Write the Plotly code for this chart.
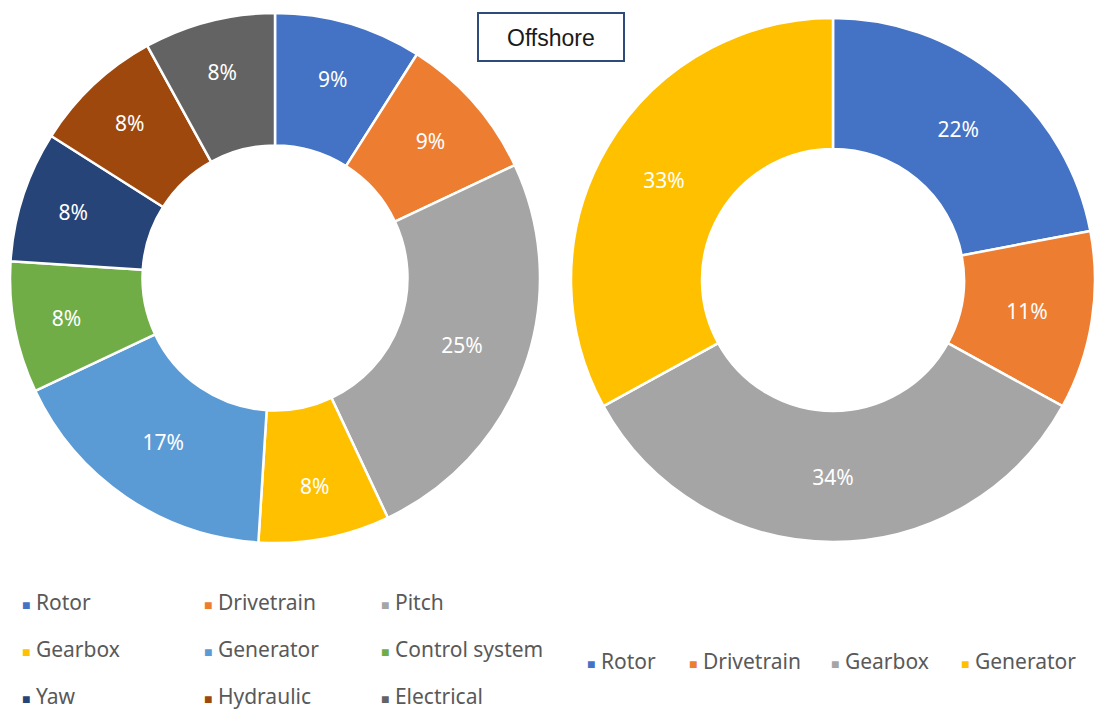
import plotly.graph_objects as go

# Failure share by component, onshore-type breakdown (left) and offshore (right)
left_labels = ["Rotor", "Drivetrain", "Pitch", "Gearbox", "Generator",
               "Control system", "Yaw", "Hydraulic", "Electrical"]
left_values = [9, 9, 25, 8, 17, 8, 8, 8, 8]
left_colors = ["#4472C4", "#ED7D31", "#A5A5A5", "#FFC000", "#5B9BD5",
               "#70AD47", "#264478", "#9E480E", "#636363"]

right_labels = ["Rotor", "Drivetrain", "Gearbox", "Generator"]
right_values = [22, 11, 34, 33]
right_colors = ["#4472C4", "#ED7D31", "#A5A5A5", "#FFC000"]

W, H = 1095, 710
label_font = dict(family="Noto Sans, Open Sans, sans-serif", size=21, color="white")
legend_font = dict(family="Noto Sans, Open Sans, sans-serif", size=21, color="#595959")


def px(x):
    return x / W


def py(y):
    return 1 - y / H


fig = go.Figure()

fig.add_trace(go.Pie(
    labels=left_labels, values=left_values,
    marker=dict(colors=left_colors, line=dict(color="white", width=2.5)),
    hole=0.5, sort=False, direction="clockwise", rotation=0,
    texttemplate="%{value}%", textposition="inside",
    insidetextorientation="horizontal", textfont=label_font,
    domain=dict(x=[px(10), px(540)], y=[py(543), py(13)]),
    showlegend=False,
))

fig.add_trace(go.Pie(
    labels=right_labels, values=right_values,
    marker=dict(colors=right_colors, line=dict(color="white", width=2.5)),
    hole=0.5, sort=False, direction="clockwise", rotation=0,
    texttemplate="%{value}%", textposition="inside",
    insidetextorientation="horizontal", textfont=label_font,
    domain=dict(x=[px(571), 1.0], y=[py(542), py(18)]),
    showlegend=False,
))

annotations = []

# Title box
annotations.append(dict(
    x=px(551), y=py(38), xref="paper", yref="paper", showarrow=False,
    xanchor="center", yanchor="middle",
    text="Offshore", font=dict(family="Liberation Sans, Arial, sans-serif",
                               size=23, color="#1a1a1a"),
))
shapes = [dict(type="rect", xref="paper", yref="paper",
               x0=px(478), x1=px(624), y0=py(61), y1=py(13),
               line=dict(color="#2F4B7C", width=2), fillcolor="white",
               layer="below")]


def legend_entry(label, color, x, y):
    return dict(
        x=px(x), y=py(y), xref="paper", yref="paper", xanchor="left",
        yanchor="middle", showarrow=False, font=legend_font,
        text=f"<span style='color:{color};font-size:14px'>■</span> {label}",
    )


# Left legend: 3 columns x 3 rows
col_x = [20, 202, 379]
row_y = [602, 649, 696]
for i, (lab, col) in enumerate(zip(left_labels, left_colors)):
    annotations.append(legend_entry(lab, col, col_x[i % 3], row_y[i // 3]))

# Right legend: single row
right_x = [585, 687, 829, 959]
for lab, col, x in zip(right_labels, right_colors, right_x):
    annotations.append(legend_entry(lab, col, x, 661))

fig.update_layout(
    width=W, height=H,
    margin=dict(l=0, r=0, t=0, b=0),
    paper_bgcolor="white", plot_bgcolor="white",
    annotations=annotations, shapes=shapes,
)

fig.write_html("out.html")
